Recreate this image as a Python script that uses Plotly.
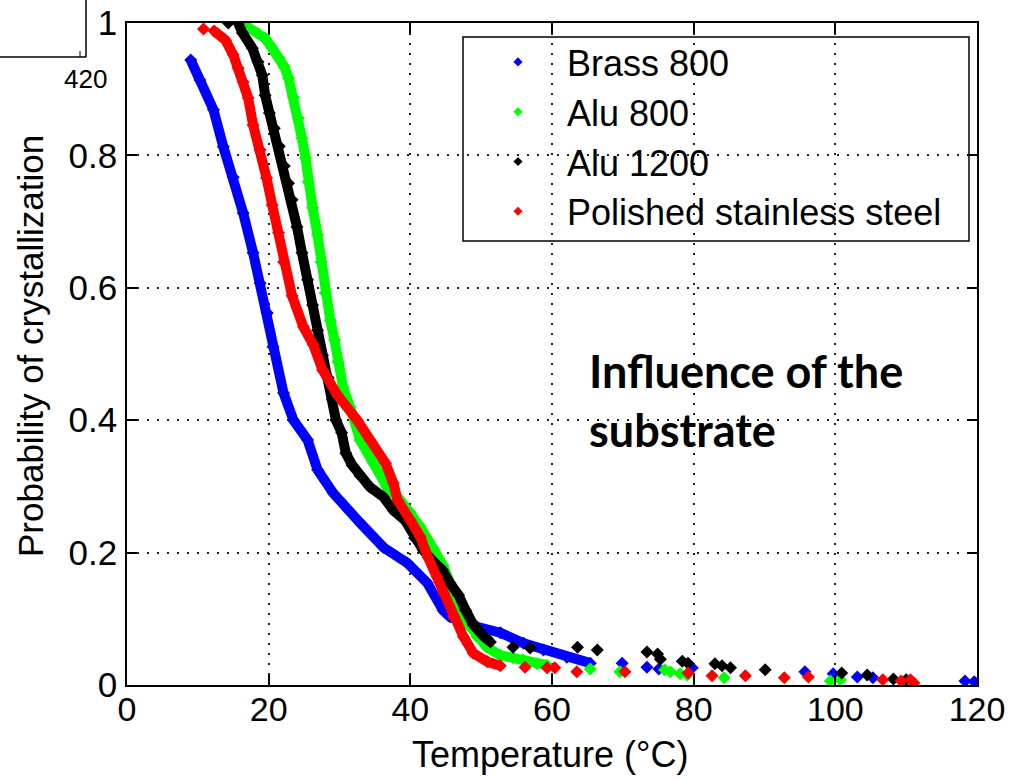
import plotly.graph_objects as go

# ---------------- data ----------------
series_names = ["Brass 800", "Alu 800", "Alu 1200", "Polished stainless steel"]
series_colors = ["#0000FF", "#00FF00", "#000000", "#FF0000"]

# Brass 800 (blue)
brass_T = [9.0, 10.3, 12.2, 13.6, 15.0, 16.4, 17.8, 18.8, 19.8, 20.6, 22.1, 23.5, 25.5, 26.9,
           29.1, 32.9, 36.2, 39.6, 42.4, 44.6, 45.6, 49.4, 52.7, 56.0, 58.8, 62.1, 65.4]
brass_P = [0.944, 0.914, 0.869, 0.813, 0.767, 0.713, 0.653, 0.607, 0.562, 0.511, 0.441, 0.400,
           0.370, 0.325, 0.290, 0.245, 0.208, 0.184, 0.154, 0.113, 0.103, 0.088, 0.079, 0.063,
           0.053, 0.042, 0.033]
brass_tail_T = [69.9, 73.4, 75.1, 79.8, 95.7, 99.7, 103.1, 105.3, 118.3, 119.6]
brass_tail_P = [0.033, 0.027, 0.024, 0.026, 0.020, 0.017, 0.012, 0.011, 0.006, 0.005]

# Alu 800 (green)
alu800_T = [17.0, 18.4, 19.5, 20.5, 21.5, 22.2, 22.8, 23.5, 24.2, 24.7, 25.2, 25.6, 26.2, 26.9,
            27.4, 28.0, 28.7, 29.3, 29.8, 30.5, 31.5, 32.9, 34.8, 36.7, 38.6, 40.0, 41.4, 43.2,
            44.6, 46.0, 47.0, 48.0, 49.4, 50.8, 52.7, 54.5, 55.9, 57.9, 59.3]
alu800_P = [0.994, 0.985, 0.977, 0.962, 0.947, 0.934, 0.917, 0.888, 0.856, 0.826, 0.796, 0.760,
            0.721, 0.680, 0.639, 0.592, 0.551, 0.521, 0.488, 0.450, 0.420, 0.370, 0.335, 0.299,
            0.279, 0.261, 0.239, 0.207, 0.181, 0.144, 0.113, 0.094, 0.073, 0.057, 0.045, 0.041,
            0.038, 0.032, 0.030]
alu800_tail_T = [65.4, 69.6, 75.9, 76.7, 78.1, 79.1, 84.3, 99.3, 100.7]
alu800_tail_P = [0.024, 0.020, 0.023, 0.020, 0.017, 0.015, 0.011, 0.006, 0.008]

# Alu 1200 (black)
alu1200_T = [15.7, 16.3, 17.7, 18.5, 19.1, 19.5, 20.1, 20.8, 21.5, 22.2, 22.8, 23.3, 24.0, 24.7,
             25.5, 26.2, 26.9, 27.6, 28.4, 29.0, 29.5, 30.3, 30.9, 31.8, 32.9, 34.3, 36.2, 37.6,
             39.3, 40.6, 41.8, 43.2, 44.5, 45.6, 46.8, 47.8, 48.9, 50.3, 51.3]
alu1200_P = [1.000, 0.985, 0.962, 0.941, 0.921, 0.891, 0.864, 0.841, 0.814, 0.784, 0.758, 0.733,
             0.692, 0.653, 0.612, 0.574, 0.536, 0.498, 0.464, 0.431, 0.400, 0.381, 0.350, 0.332,
             0.316, 0.299, 0.284, 0.264, 0.248, 0.222, 0.204, 0.187, 0.174, 0.154, 0.136, 0.113,
             0.091, 0.074, 0.065]
alu1200_tail_T = [14.3, 54.5, 56.9, 63.6, 66.4, 73.4, 74.9, 75.3, 78.4, 79.2, 83.0, 84.0, 85.2,
                  90.1, 100.9, 104.5, 108.2, 110.0]
alu1200_tail_P = [1.000, 0.057, 0.056, 0.057, 0.053, 0.050, 0.047, 0.039, 0.036, 0.033, 0.032,
                  0.029, 0.026, 0.023, 0.018, 0.015, 0.009, 0.008]

# Polished stainless steel (red)
steel_T = [12.3, 13.9, 15.0, 15.7, 16.4, 17.1, 17.8, 18.8, 19.7, 20.5, 21.4, 22.1, 23.3, 24.9,
           26.3, 27.6, 29.7, 32.5, 34.3, 36.5, 37.6, 38.2, 40.0, 41.4, 42.5, 43.8, 44.7, 46.1,
           47.5, 48.9, 50.9, 52.7]
steel_P = [0.988, 0.974, 0.952, 0.932, 0.911, 0.887, 0.846, 0.808, 0.766, 0.725, 0.683, 0.639,
           0.588, 0.541, 0.514, 0.476, 0.438, 0.400, 0.370, 0.335, 0.305, 0.279, 0.249, 0.224,
           0.193, 0.163, 0.139, 0.103, 0.073, 0.048, 0.035, 0.029]
steel_tail_T = [10.8, 56.2, 59.3, 60.4, 63.5, 70.3, 79.2, 82.6, 87.3, 92.8, 96.2, 106.7, 109.3,
                110.6, 111.1]
steel_tail_P = [0.991, 0.027, 0.026, 0.026, 0.020, 0.020, 0.018, 0.014, 0.014, 0.011, 0.012,
                0.008, 0.006, 0.008, 0.003]

x_ticks = [0, 20, 40, 60, 80, 100, 120]
x_ticktext = ["0", "20", "40", "60", "80", "100", "120"]
y_ticks = [0, 0.2, 0.4, 0.6, 0.8, 1.0]
y_ticktext = ["0", "0.2", "0.4", "0.6", "0.8", "1"]

dense = [(brass_T, brass_P), (alu800_T, alu800_P), (alu1200_T, alu1200_P), (steel_T, steel_P)]
tails = [(brass_tail_T, brass_tail_P), (alu800_tail_T, alu800_tail_P),
         (alu1200_tail_T, alu1200_tail_P), (steel_tail_T, steel_tail_P)]

FONT = "Liberation Sans, Arial, sans-serif"

fig = go.Figure()
for name, col, (dx, dy), (tx, ty) in zip(series_names, series_colors, dense, tails):
    fig.add_trace(go.Scatter(x=dx, y=dy, mode="lines+markers", showlegend=False,
                             line=dict(color=col, width=10),
                             marker=dict(symbol="diamond", size=10, color=col),
                             hoverinfo="skip"))
    fig.add_trace(go.Scatter(x=tx, y=ty, mode="markers", showlegend=False,
                             marker=dict(symbol="diamond", size=10, color=col),
                             hoverinfo="skip"))
for name, col in zip(series_names, series_colors):
    fig.add_trace(go.Scatter(x=[None], y=[None], mode="markers", name=name,
                             marker=dict(symbol="diamond", size=7, color=col)))

L, R, T, B = 127, 977, 23, 685
W, H = 1017, 780
pw, ph = R - L, B - T

def px(x):
    return (x - L) / pw

def py(y):
    return (B - y) / ph

axis_common = dict(showline=True, linecolor="black", linewidth=1.5, mirror="ticks",
                   ticks="inside", ticklen=10, tickwidth=1.5, tickcolor="black",
                   showgrid=True, gridcolor="#222222", gridwidth=1.5, griddash="2px,8px",
                   zeroline=False, automargin=False)

fig.update_layout(
    width=W, height=H,
    margin=dict(l=L, r=W - R, t=T, b=H - B, pad=0),
    plot_bgcolor="white", paper_bgcolor="white",
    xaxis=dict(range=[0, 120], tickvals=x_ticks, ticktext=x_ticktext,
               ticklabelstandoff=-7, tickfont=dict(family=FONT, size=34, color="black"),
               **axis_common),
    yaxis=dict(range=[0, 1], tickvals=y_ticks, ticktext=y_ticktext,
               ticklabelstandoff=1, tickfont=dict(family=FONT, size=35, color="black"),
               **axis_common),
    legend=dict(x=px(469), y=py(32), xanchor="left", yanchor="top",
                bgcolor="rgba(0,0,0,0)", borderwidth=0, itemwidth=88,
                tracegroupgap=0,
                font=dict(family=FONT, size=36, color="black")),
    shapes=[
        dict(type="rect", xref="paper", yref="paper", x0=px(463), x1=px(969),
             y0=py(241), y1=py(37), fillcolor="white", line=dict(color="black", width=1.5),
             layer="between"),
        dict(type="line", xref="paper", yref="paper", x0=px(86), x1=px(86),
             y0=py(0), y1=py(57), line=dict(color="black", width=1.5)),
        dict(type="line", xref="paper", yref="paper", x0=px(0), x1=px(86),
             y0=py(57), y1=py(57), line=dict(color="black", width=1.5)),
        dict(type="line", xref="paper", yref="paper", x0=px(80), x1=px(80),
             y0=py(51), y1=py(57), line=dict(color="black", width=1)),
    ],
    annotations=[
        dict(text="Temperature (°C)", xref="paper", yref="paper", x=px(550), y=py(755),
             showarrow=False, xanchor="center", yanchor="middle",
             font=dict(family=FONT, size=36, color="black")),
        dict(text="Probability of crystallization", xref="paper", yref="paper",
             x=px(30), y=py(346), textangle=-90, showarrow=False,
             xanchor="center", yanchor="middle",
             font=dict(family=FONT, size=35, color="black")),
        dict(text="Influence of the<br>substrate", xref="paper", yref="paper",
             x=px(587), y=py(400), showarrow=False, xanchor="left", yanchor="middle",
             align="left", font=dict(family="Lato", size=45, color="black", weight="bold")),
        dict(text="420", xref="paper", yref="paper", x=px(85), y=py(79), showarrow=False,
             xanchor="center", yanchor="middle",
             font=dict(family=FONT, size=26, color="black")),
    ],
)

fig.write_html("out.html")
